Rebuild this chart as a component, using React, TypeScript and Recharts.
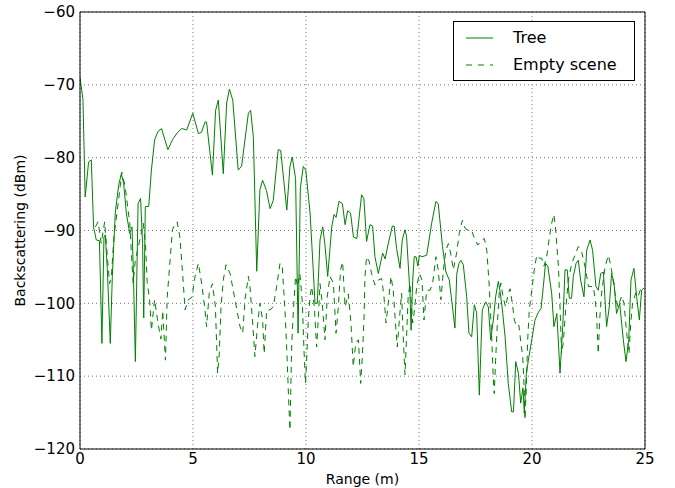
import { CartesianGrid, Line, LineChart, ReferenceLine, XAxis, YAxis } from "recharts"

const treeX = [
  0, 0.13, 0.23, 0.38, 0.5, 0.6, 0.72, 0.86, 0.97, 1.06, 1.12, 1.21, 1.34, 1.43, 1.56, 1.71, 1.83, 1.93, 2.05, 2.2,
  2.3, 2.36, 2.45, 2.57, 2.68, 2.77, 2.82, 2.89, 3.04, 3.16, 3.3, 3.45, 3.61, 3.75, 3.89, 4.1, 4.3, 4.5, 4.72, 4.99,
  5.24, 5.38, 5.53, 5.6, 5.86, 6.0, 6.12, 6.34, 6.49, 6.61, 6.76, 7.0, 7.15, 7.45, 7.55, 7.67, 7.82, 7.96, 8.08, 8.25,
  8.41, 8.55, 8.77, 8.88, 9.15, 9.29, 9.39, 9.54, 9.65, 9.75, 9.88, 9.99, 10.18, 10.32, 10.4, 10.5, 10.62, 10.74, 10.84, 10.96,
  11.14, 11.24, 11.33, 11.46, 11.61, 11.73, 11.84, 11.97, 12.1, 12.25, 12.46, 12.56, 12.68, 12.83, 12.95, 13.05, 13.2, 13.39, 13.5, 13.64,
  13.82, 13.9, 14.01, 14.16, 14.26, 14.38, 14.45, 14.6, 14.65, 14.72, 14.79, 14.87, 14.95, 15.02, 15.13, 15.34, 15.56, 15.75, 15.85, 16.04,
  16.19, 16.34, 16.59, 16.67, 16.77, 16.86, 16.96, 17.11, 17.21, 17.33, 17.45, 17.55, 17.67, 17.8, 17.95, 18.07, 18.17, 18.29, 18.39, 18.51,
  18.58, 18.69, 18.81, 18.95, 19.1, 19.18, 19.28, 19.4, 19.5, 19.6, 19.66, 19.75, 19.84, 19.99, 20.13, 20.27, 20.4, 20.5, 20.6, 20.7,
  20.87, 20.97, 21.1, 21.24, 21.36, 21.46, 21.56, 21.65, 21.75, 21.83, 21.95, 22.05, 22.15, 22.3, 22.42, 22.57, 22.68, 22.83, 22.93, 23.04,
  23.16, 23.3, 23.42, 23.52, 23.63, 23.74, 23.88, 24.04, 24.16, 24.28, 24.38, 24.51, 24.63, 24.75, 24.85, 24.96,
]
const treeY = [
  -69, -72, -85.4, -80.6, -80.3, -89.5, -91.3, -91.4, -105.5, -90.9, -90.6, -95.4, -105.5, -96.3, -87.6, -83.8, -82.2, -83.5, -87.6, -90.4,
  -89.5, -95.4, -108, -86.3, -85.6, -91.8, -102, -86.7, -86.7, -81.7, -77.6, -76.4, -76, -77.5, -78.9, -77.5, -76.6, -76, -76.2, -73.9,
  -76.7, -76.5, -75.1, -75.1, -82.4, -73.5, -72.1, -82.2, -72.5, -70.6, -72.1, -81.7, -81.2, -73.9, -73.5, -77.1, -95.6, -84.4, -83.1, -84.5,
  -87, -85.9, -78.9, -79, -87.2, -81.2, -79.9, -82.9, -104.1, -84.2, -81.2, -81.7, -87.6, -95.4, -100, -100, -91.3, -89.5, -92, -96.3,
  -89.5, -87.8, -88.2, -86, -86.3, -89.2, -87.3, -87.6, -90.9, -91.1, -85.1, -85.6, -91.5, -89.2, -89.4, -93.6, -95.9, -93.1, -93.9, -91.8,
  -89.4, -89.4, -92.5, -95.2, -91.3, -89.9, -90.8, -98.6, -103.7, -96.9, -93.6, -93.6, -94.9, -93.4, -93.6, -93.4, -89, -86, -86.3, -92.2,
  -95.7, -96.8, -103.4, -96, -94.5, -94.1, -94.7, -99.1, -104.1, -104.6, -100.2, -101.3, -112.6, -100.9, -99.8, -100.5, -105, -102.3, -99.1, -97,
  -98.2, -100.9, -104.6, -111, -114.9, -114.9, -108, -109.6, -113.7, -111.6, -115.1, -109.6, -107.8, -105, -102.3, -101.3, -100.7, -97.7, -94.5, -94.9,
  -98.6, -103.2, -101.4, -109.6, -103.2, -95.4, -95.4, -99.3, -99.3, -96.3, -94.5, -94.1, -96.8, -99.1, -92.7, -91.3, -92.7, -97.7, -98.2, -95.9,
  -95.7, -103.2, -100.5, -95.9, -97.2, -101.4, -100, -105, -108, -105, -96.8, -95.2, -99.1, -102.3, -98.2, -97.9,
]

const emptyX = [
  0.68, 0.8, 0.94, 1.09, 1.21, 1.31, 1.39, 1.5, 1.7, 1.85, 2.0, 2.2, 2.35, 2.45, 2.6, 2.8, 2.9, 2.97, 3.08, 3.16,
  3.3, 3.45, 3.58, 3.66, 3.78, 3.86, 4.0, 4.09, 4.19, 4.3, 4.42, 4.54, 4.65, 4.79, 4.95, 5.09, 5.24, 5.38, 5.53, 5.6,
  5.72, 5.86, 5.99, 6.09, 6.16, 6.24, 6.34, 6.46, 6.64, 6.86, 7.08, 7.2, 7.3, 7.45, 7.52, 7.63, 7.74, 7.85, 7.96, 8.08,
  8.15, 8.26, 8.41, 8.55, 8.7, 8.85, 8.95, 9.07, 9.15, 9.25, 9.29, 9.37, 9.45, 9.54, 9.63, 9.73, 9.84, 9.91, 9.98, 10.06,
  10.1, 10.18, 10.25, 10.37, 10.47, 10.55, 10.62, 10.72, 10.84, 10.94, 11.06, 11.21, 11.33, 11.43, 11.53, 11.62, 11.73, 11.87, 11.99, 12.09,
  12.2, 12.32, 12.42, 12.5, 12.57, 12.61, 12.68, 12.8, 12.9, 13.05, 13.2, 13.35, 13.45, 13.54, 13.64, 13.76, 13.86, 13.95, 14.04, 14.13,
  14.23, 14.29, 14.38, 14.45, 14.52, 14.6, 14.72, 14.78, 14.9, 15.02, 15.13, 15.22, 15.34, 15.49, 15.6, 15.75, 15.85, 15.97, 16.08, 16.19,
  16.3, 16.4, 16.52, 16.67, 16.78, 16.92, 17.04, 17.18, 17.33, 17.43, 17.6, 17.78, 17.89, 18.0, 18.11, 18.21, 18.29, 18.33, 18.39, 18.46,
  18.55, 18.62, 18.72, 18.83, 18.92, 19.03, 19.13, 19.22, 19.32, 19.42, 19.51, 19.59, 19.65, 19.69, 19.75, 19.81, 19.88, 19.99, 20.1, 20.21,
  20.31, 20.43, 20.53, 20.65, 20.77, 20.87, 20.97, 21.05, 21.17, 21.24, 21.31, 21.38, 21.49, 21.61, 21.76, 21.9, 22.05, 22.2, 22.35, 22.5,
  22.72, 22.85, 22.93, 23.0, 23.08, 23.23, 23.38, 23.45, 23.55, 23.67, 23.8, 23.97, 24.07, 24.19, 24.29, 24.38, 24.45, 24.6, 24.7, 24.81,
  24.92,
]
const emptyY = [
  -89.5, -88.8, -91.8, -88.8, -93.6, -97.3, -96.3, -90.9, -86, -82, -84, -89, -97.2, -94, -92, -89, -92, -97, -99.5, -103.7,
  -99.5, -102.7, -104.9, -101, -107.8, -99.1, -93.5, -89.9, -89.2, -88.8, -90.9, -95.9, -100.9, -99.5, -99.2, -96.3, -94.5, -97.2, -100.9, -103.2,
  -98.6, -97.3, -100.4, -109.6, -107, -100.5, -96.8, -94.7, -95.9, -99.5, -103.2, -104.1, -99.5, -96.3, -97.7, -102.3, -107.3, -103.2, -100, -102.3,
  -106.9, -100.9, -100.9, -100.5, -97.7, -94.5, -95, -100.9, -106.4, -114.6, -117.4, -105.5, -100.5, -96.3, -97.7, -95.9, -100, -106.4, -111, -105.5,
  -102.3, -99.1, -97.7, -100.5, -106, -101.8, -97.3, -100, -105, -99.1, -96.3, -97.2, -104.1, -100.5, -95.4, -94.3, -100.5, -98.7, -102.7, -108.7,
  -105.5, -105, -111, -106.9, -101.8, -96.3, -93.6, -94.3, -95.9, -97.5, -96.8, -96.6, -99.1, -102.7, -100, -96.3, -98.2, -102.3, -106, -102.3,
  -98.6, -103.7, -109.8, -104.6, -99.1, -97.3, -102.7, -101.4, -97.7, -95.9, -96.8, -102.3, -98.2, -98.2, -97.3, -93.6, -95.4, -99.5, -95.4, -92.7,
  -91.8, -93.1, -95.4, -93, -90.4, -88.6, -89.7, -90, -90, -90.9, -92, -91.3, -91.1, -92.7, -97.7, -104.1, -110.5, -112.4, -107.8, -103.2,
  -98.6, -97.2, -99.1, -100.5, -99.1, -98, -100, -102.3, -103.2, -103, -105.5, -107.3, -111.4, -116, -111.4, -105, -100.9, -98.2, -95.4, -93.4,
  -93.8, -93.8, -94.9, -93.6, -90.9, -89, -87.8, -90, -95, -100.5, -106.9, -105.5, -100.9, -96.8, -94.5, -93.4, -92.2, -93, -95, -97.7,
  -97.7, -101, -106.9, -102, -98.6, -95, -93.4, -94.3, -96, -98.6, -100.5, -99, -100, -104.1, -106.9, -102.3, -100, -98.5, -99, -98,
  -97.7,
]

const xTicks = [0, 5, 10, 15, 20, 25]
const yTicks = [-120, -110, -100, -90, -80, -70, -60]

const treeData = treeX.map((x, i) => ({ x, y: treeY[i] }))
const emptyData = emptyX.map((x, i) => ({ x, y: emptyY[i] }))

const GREEN = "#008000"
const FONT = "'DejaVu Sans', sans-serif"

const fmt = (v: number) => (v < 0 ? `\u2212${-v}` : `${v}`)

function LegendBox() {
  const row = (label: string, dash?: string) => (
    <div style={{ display: "flex", alignItems: "center", height: 27 }}>
      <svg width={46} height={10} style={{ marginLeft: 12 }}>
        <line x1={0} y1={5} x2={27} y2={5} stroke={GREEN} strokeWidth={1} strokeDasharray={dash} />
      </svg>
      <span style={{ marginLeft: 1 }}>{label}</span>
    </div>
  )
  return (
    <div
      style={{
        position: "absolute",
        left: 453,
        top: 21,
        border: "1px solid #000",
        background: "#fff",
        width: 182,
        padding: "2px 0",
        fontFamily: FONT,
        fontSize: 16,
        color: "#000",
        boxSizing: "border-box",
      }}
    >
      {row("Tree")}
      {row("Empty scene", "6 6")}
    </div>
  )
}

export default function App() {
  return (
    <div style={{ position: "absolute", left: 0, top: 0, width: 675, height: 488, background: "#fff" }}>
      <LineChart width={675} height={488} margin={{ top: 12, right: 30, left: 0, bottom: 0 }} style={{ fontFamily: FONT }}>
        <CartesianGrid stroke="#777" strokeDasharray="1 3" />
        <XAxis
          dataKey="x"
          type="number"
          domain={[0, 25]}
          ticks={xTicks}
          allowDataOverflow
          height={39}
          tickLine={false}
          tickSize={0}
          tickMargin={4}
          axisLine={{ stroke: "#000" }}
          tick={{ fill: "#000", fontSize: 15 }}
          tickFormatter={fmt}
          label={{ value: "Range (m)", position: "insideBottom", offset: 4, fill: "#000", fontSize: 14 }}
        />
        <YAxis
          dataKey="y"
          type="number"
          domain={[-120, -60]}
          ticks={yTicks}
          allowDataOverflow
          width={80}
          tickLine={false}
          tickSize={0}
          tickMargin={5}
          axisLine={{ stroke: "#000" }}
          tick={{ fill: "#000", fontSize: 15 }}
          tickFormatter={fmt}
          label={{ value: "Backscattering (dBm)", angle: -90, position: "center", dx: -20, fill: "#000", fontSize: 14 }}
        />
        <ReferenceLine y={-60} stroke="#000" />
        <ReferenceLine x={25} stroke="#000" />
        <Line data={treeData} dataKey="y" name="Tree" stroke={GREEN} strokeWidth={1} dot={false} isAnimationActive={false} />
        <Line
          data={emptyData}
          dataKey="y"
          name="Empty scene"
          stroke={GREEN}
          strokeWidth={1}
          strokeDasharray="6 5"
          dot={false}
          isAnimationActive={false}
        />
      </LineChart>
      <LegendBox />
    </div>
  )
}
